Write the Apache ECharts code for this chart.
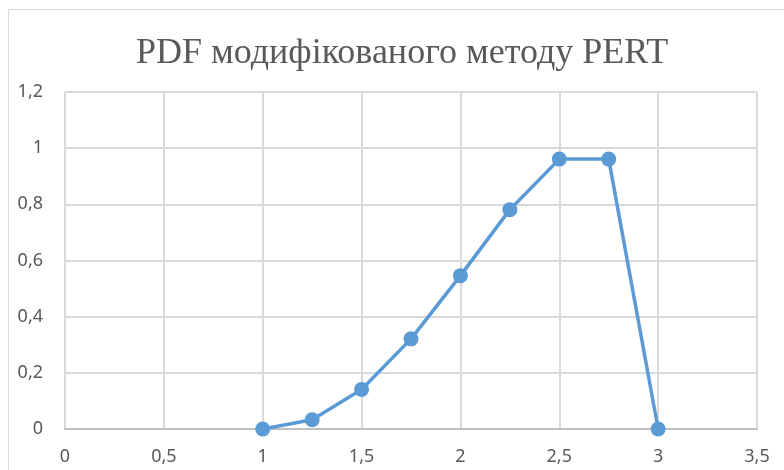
<!DOCTYPE html>
<html>
<head>
<meta charset="utf-8">
<script src="https://cdn.jsdelivr.net/npm/echarts@6/dist/echarts.min.js"></script>
<style>
  html, body { margin: 0; padding: 0; background: #fff; }
  .frame {
    position: absolute; left: 8px; top: 9px; right: 0; bottom: 0;
    border-left: 1px solid #d9d9d9; border-top: 1px solid #d9d9d9;
  }
  #chart { position: absolute; left: 0; top: 0; width: 784px; height: 470px; }
</style>
</head>
<body>
<div class="frame"></div>
<div id="chart"></div>
<script>
// значення з графіка
const xValues = [1, 1.25, 1.5, 1.75, 2, 2.25, 2.5, 2.75, 3]
const pdfValues = [0, 0.033, 0.141, 0.321, 0.546, 0.781, 0.961, 0.961, 0]

const comma = v => String(v).replace('.', ',')

const chart = echarts.init(document.getElementById('chart'))
chart.setOption({
  animation: false,
  title: {
    text: 'PDF модифікованого методу PERT',
    left: 131,
    top: 31,
    textStyle: { fontFamily: 'Liberation Serif', fontSize: 36, fontWeight: 'normal', color: '#595959' }
  },
  grid: { left: 65, right: 27, top: 92, bottom: 41 },
  xAxis: {
    type: 'value',
    min: 0, max: 3.5, interval: 0.5,
    axisLine: { show: true, lineStyle: { color: '#bfbfbf', width: 2 } },
    axisTick: { show: false },
    splitLine: { show: true, lineStyle: { color: '#d9d9d9', width: 2 } },
    axisLabel: { color: '#595959', fontFamily: 'Noto Sans', fontSize: 18, margin: 19, formatter: comma }
  },
  yAxis: {
    type: 'value',
    min: 0, max: 1.2, interval: 0.2,
    axisLine: { show: false },
    axisTick: { show: false },
    splitLine: { show: true, lineStyle: { color: '#d9d9d9', width: 2 } },
    axisLabel: { color: '#595959', fontFamily: 'Noto Sans', fontSize: 18, margin: 22, formatter: comma }
  },
  series: [{
    type: 'line',
    data: xValues.map((x, i) => [x, pdfValues[i]]),
    symbol: 'circle',
    symbolSize: 15,
    lineStyle: { color: '#5b9bd5', width: 3.5 },
    itemStyle: { color: '#5b9bd5' }
  }]
})
</script>
</body>
</html>
